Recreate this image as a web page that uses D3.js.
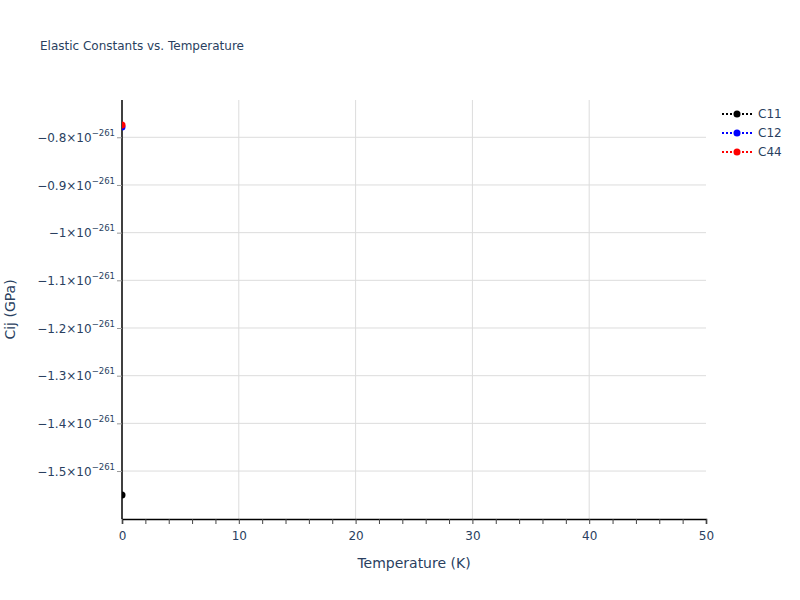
<!DOCTYPE html>
<html>
<head>
<meta charset="utf-8">
<script src="https://cdn.jsdelivr.net/npm/d3@7"></script>
<style>
  body { margin: 0; background: #fff; }
  text { font-family: "DejaVu Sans", Verdana, sans-serif; }
</style>
</head>
<body>
<svg id="chart" width="800" height="600"></svg>
<script>
// data (values in GPa)
const temperatures = [0];
const c11 = [-1.5503e-261];
const c12 = [-0.7784e-261];
const c44 = [-0.7742e-261];
const xTicks = [0, 10, 20, 30, 40, 50];
const yTicks = [-0.8e-261, -0.9e-261, -1e-261, -1.1e-261, -1.2e-261, -1.3e-261, -1.4e-261, -1.5e-261];

const series = [
    { name: 'C11', values: c11, color: 'black' },
    { name: 'C12', values: c12, color: 'blue' },
    { name: 'C44', values: c44, color: 'red' }
];

const width = 800, height = 600;
const margin = { top: 100, right: 94, bottom: 81, left: 122 };
const innerW = width - margin.left - margin.right;
const innerH = height - margin.top - margin.bottom;
const textColor = '#2a3f5f';

const svg = d3.select('#chart');

const xscale = d3.scaleLinear().domain([0, 50]).range([0, innerW]);
const yscale = d3.scaleLinear().domain([-1.6006e-261, -0.7218e-261]).range([innerH, 0]);

const chart = svg.append('g')
    .attr('transform', `translate(${margin.left}, ${margin.top})`);

chart.append('clipPath').attr('id', 'clip')
    .append('rect').attr('width', innerW).attr('height', innerH);

// gridlines
chart.append('g')
    .selectAll('line')
    .data(xTicks.filter(d => d > 0 && d < 50))
    .join('line')
    .attr('x1', d => xscale(d)).attr('x2', d => xscale(d))
    .attr('y1', 0).attr('y2', innerH)
    .attr('stroke', '#dcdcdc');

chart.append('g')
    .selectAll('line')
    .data(yTicks)
    .join('line')
    .attr('x1', 0).attr('x2', innerW)
    .attr('y1', d => yscale(d)).attr('y2', d => yscale(d))
    .attr('stroke', '#dcdcdc');

// x axis
const xaxis = d3.axisBottom(xscale)
    .tickValues(d3.range(0, 51, 2))
    .tickSize(5)
    .tickFormat(d => xTicks.includes(d) ? d : '');

const xg = chart.append('g')
    .attr('transform', `translate(0, ${innerH})`)
    .call(xaxis);
xg.select('.domain').attr('stroke', 'black').attr('stroke-width', 1.5);
xg.selectAll('.tick line').attr('stroke', '#444');
xg.selectAll('.tick text')
    .attr('font-size', 12)
    .attr('fill', textColor)
    .attr('dy', '1.05em');

// y axis
const yaxis = d3.axisLeft(yscale)
    .tickValues(yTicks)
    .tickSize(5)
    .tickFormat('');

const yg = chart.append('g').call(yaxis);
yg.select('.domain').attr('stroke', 'black').attr('stroke-width', 1.5).attr('d', `M0,0V${innerH}`);
yg.selectAll('.tick line').attr('stroke', '#999');

yg.selectAll('.tick').append('text')
    .attr('x', -7)
    .attr('dy', '0.35em')
    .attr('text-anchor', 'end')
    .attr('font-size', 12)
    .attr('fill', textColor)
    .each(function(d) {
        const t = d3.select(this);
        const mant = Math.round(d / 1e-261 * 10) / 10;
        t.append('tspan').text('\u2212' + Math.abs(mant) + '\u00d710');
        t.append('tspan').attr('font-size', 8.5).attr('dy', '-0.7em').text('\u2212261');
    });

// series
const line = d3.line()
    .x(d => xscale(d[0]))
    .y(d => yscale(d[1]));

const plot = chart.append('g').attr('clip-path', 'url(#clip)');

series.forEach(s => {
    const pts = temperatures.map((t, i) => [t, s.values[i]]);
    plot.append('path')
        .attr('d', line(pts))
        .attr('fill', 'none')
        .attr('stroke', s.color)
        .attr('stroke-width', 2)
        .attr('stroke-dasharray', '2,2');
    plot.selectAll(null)
        .data(pts)
        .join('circle')
        .attr('cx', d => xscale(d[0]))
        .attr('cy', d => yscale(d[1]))
        .attr('r', 3.5)
        .attr('fill', s.color);
});

// legend
const legend = svg.append('g')
    .attr('transform', 'translate(722, 114)');

series.forEach((s, i) => {
    const g = legend.append('g').attr('transform', `translate(0, ${i * 19})`);
    g.append('line')
        .attr('x1', 0).attr('x2', 30)
        .attr('stroke', s.color)
        .attr('stroke-width', 2)
        .attr('stroke-dasharray', '2,2');
    g.append('circle').attr('cx', 15).attr('r', 3.5).attr('fill', s.color);
    g.append('text')
        .attr('x', 36)
        .attr('dy', '0.35em')
        .attr('font-size', 12)
        .attr('fill', textColor)
        .text(s.name);
});

// titles
svg.append('text')
    .attr('x', 40)
    .attr('y', 50)
    .attr('font-size', 12)
    .attr('fill', textColor)
    .text('Elastic Constants vs. Temperature');

svg.append('text')
    .attr('x', margin.left + innerW / 2)
    .attr('y', 568)
    .attr('text-anchor', 'middle')
    .attr('font-size', 14)
    .attr('fill', textColor)
    .text('Temperature (K)');

svg.append('text')
    .attr('transform', 'rotate(-90)')
    .attr('x', -(margin.top + innerH / 2))
    .attr('y', 15)
    .attr('text-anchor', 'middle')
    .attr('font-size', 14)
    .attr('fill', textColor)
    .text('Cij (GPa)');
</script>
</body>
</html>
